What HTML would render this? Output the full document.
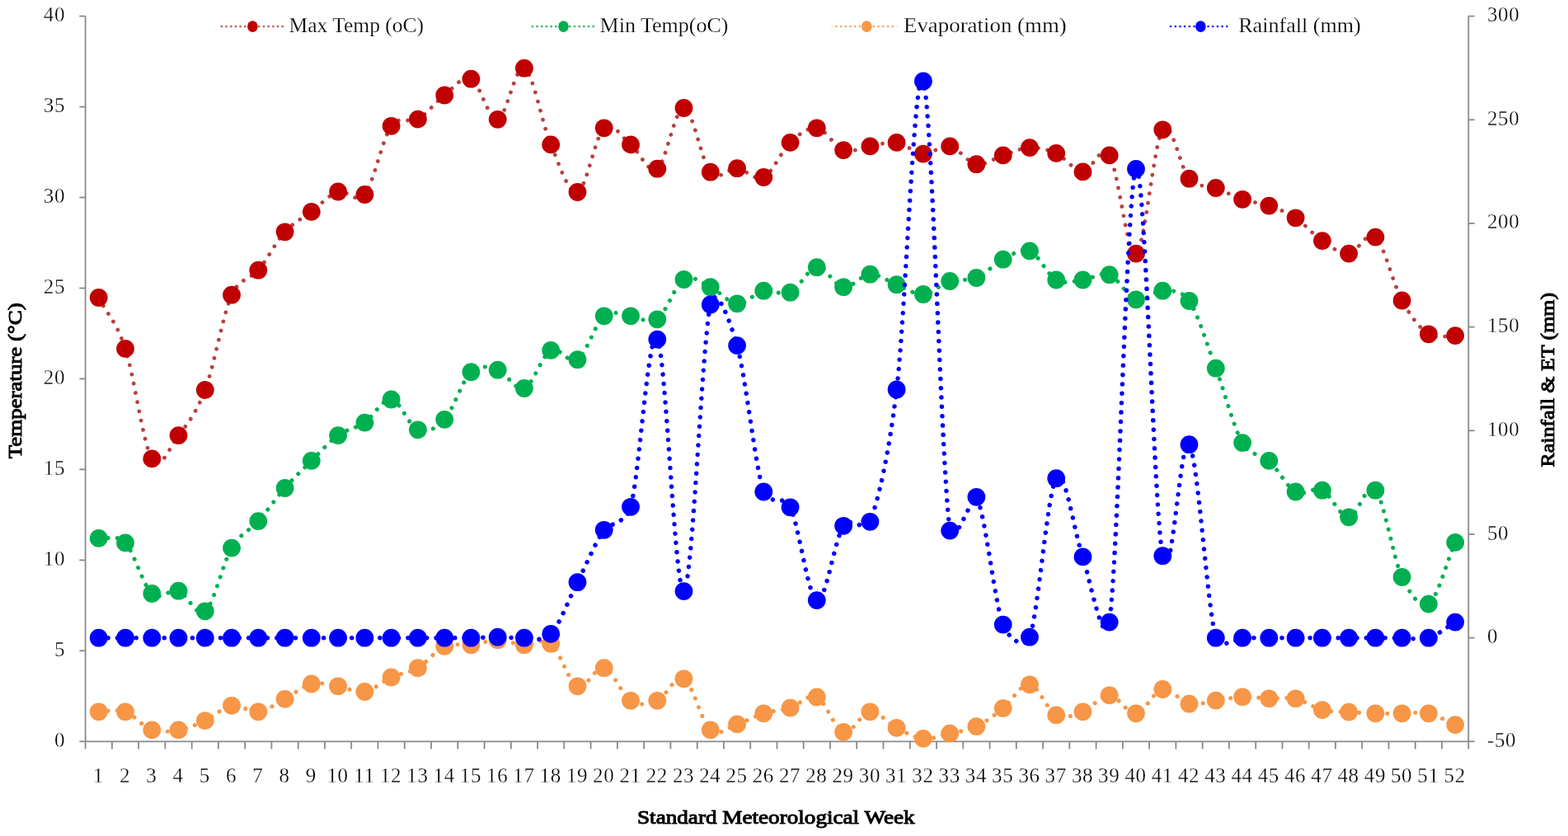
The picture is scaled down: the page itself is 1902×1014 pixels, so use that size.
<!DOCTYPE html>
<html lang="en"><head><meta charset="utf-8"><title>Weekly weather chart</title>
<style>html,body{margin:0;padding:0;background:#fff;overflow:hidden}svg{display:block}text{font-family:"Liberation Serif",serif;fill:#000}.tk{font-size:25px;fill:#151515;stroke:#fff;stroke-width:0.3px;paint-order:fill stroke;letter-spacing:0.6px}.lg{font-size:25px;stroke:#fff;stroke-width:0.25px;paint-order:fill stroke}.ttl{font-size:24px;stroke:#000;stroke-width:1.0px;paint-order:stroke}</style></head><body>
<svg width="1902" height="1014" viewBox="0 0 1902 1014">
<rect x="0" y="0" width="1902" height="1014" fill="#ffffff"/>
<g stroke="#898989" stroke-width="1.8" fill="none">
<line x1="103.6" y1="19.6" x2="103.6" y2="899.3"/>
<line x1="1781.3" y1="19.6" x2="1781.3" y2="899.3"/>
<line x1="103.6" y1="899.3" x2="1781.3" y2="899.3"/>
<line x1="96.3" y1="899.3" x2="103.6" y2="899.3"/>
<line x1="96.3" y1="789.3" x2="103.6" y2="789.3"/>
<line x1="96.3" y1="679.4" x2="103.6" y2="679.4"/>
<line x1="96.3" y1="569.4" x2="103.6" y2="569.4"/>
<line x1="96.3" y1="459.4" x2="103.6" y2="459.4"/>
<line x1="96.3" y1="349.5" x2="103.6" y2="349.5"/>
<line x1="96.3" y1="239.5" x2="103.6" y2="239.5"/>
<line x1="96.3" y1="129.6" x2="103.6" y2="129.6"/>
<line x1="96.3" y1="19.6" x2="103.6" y2="19.6"/>
<line x1="1781.3" y1="899.3" x2="1788.6" y2="899.3"/>
<line x1="1781.3" y1="773.6" x2="1788.6" y2="773.6"/>
<line x1="1781.3" y1="648.0" x2="1788.6" y2="648.0"/>
<line x1="1781.3" y1="522.3" x2="1788.6" y2="522.3"/>
<line x1="1781.3" y1="396.6" x2="1788.6" y2="396.6"/>
<line x1="1781.3" y1="270.9" x2="1788.6" y2="270.9"/>
<line x1="1781.3" y1="145.3" x2="1788.6" y2="145.3"/>
<line x1="1781.3" y1="19.6" x2="1788.6" y2="19.6"/>
<line x1="103.6" y1="899.3" x2="103.6" y2="908.5"/>
<line x1="135.9" y1="899.3" x2="135.9" y2="908.5"/>
<line x1="168.1" y1="899.3" x2="168.1" y2="908.5"/>
<line x1="200.4" y1="899.3" x2="200.4" y2="908.5"/>
<line x1="232.7" y1="899.3" x2="232.7" y2="908.5"/>
<line x1="264.9" y1="899.3" x2="264.9" y2="908.5"/>
<line x1="297.2" y1="899.3" x2="297.2" y2="908.5"/>
<line x1="329.4" y1="899.3" x2="329.4" y2="908.5"/>
<line x1="361.7" y1="899.3" x2="361.7" y2="908.5"/>
<line x1="394.0" y1="899.3" x2="394.0" y2="908.5"/>
<line x1="426.2" y1="899.3" x2="426.2" y2="908.5"/>
<line x1="458.5" y1="899.3" x2="458.5" y2="908.5"/>
<line x1="490.8" y1="899.3" x2="490.8" y2="908.5"/>
<line x1="523.0" y1="899.3" x2="523.0" y2="908.5"/>
<line x1="555.3" y1="899.3" x2="555.3" y2="908.5"/>
<line x1="587.6" y1="899.3" x2="587.6" y2="908.5"/>
<line x1="619.8" y1="899.3" x2="619.8" y2="908.5"/>
<line x1="652.1" y1="899.3" x2="652.1" y2="908.5"/>
<line x1="684.3" y1="899.3" x2="684.3" y2="908.5"/>
<line x1="716.6" y1="899.3" x2="716.6" y2="908.5"/>
<line x1="748.9" y1="899.3" x2="748.9" y2="908.5"/>
<line x1="781.1" y1="899.3" x2="781.1" y2="908.5"/>
<line x1="813.4" y1="899.3" x2="813.4" y2="908.5"/>
<line x1="845.7" y1="899.3" x2="845.7" y2="908.5"/>
<line x1="877.9" y1="899.3" x2="877.9" y2="908.5"/>
<line x1="910.2" y1="899.3" x2="910.2" y2="908.5"/>
<line x1="942.5" y1="899.3" x2="942.5" y2="908.5"/>
<line x1="974.7" y1="899.3" x2="974.7" y2="908.5"/>
<line x1="1007.0" y1="899.3" x2="1007.0" y2="908.5"/>
<line x1="1039.2" y1="899.3" x2="1039.2" y2="908.5"/>
<line x1="1071.5" y1="899.3" x2="1071.5" y2="908.5"/>
<line x1="1103.8" y1="899.3" x2="1103.8" y2="908.5"/>
<line x1="1136.0" y1="899.3" x2="1136.0" y2="908.5"/>
<line x1="1168.3" y1="899.3" x2="1168.3" y2="908.5"/>
<line x1="1200.6" y1="899.3" x2="1200.6" y2="908.5"/>
<line x1="1232.8" y1="899.3" x2="1232.8" y2="908.5"/>
<line x1="1265.1" y1="899.3" x2="1265.1" y2="908.5"/>
<line x1="1297.3" y1="899.3" x2="1297.3" y2="908.5"/>
<line x1="1329.6" y1="899.3" x2="1329.6" y2="908.5"/>
<line x1="1361.9" y1="899.3" x2="1361.9" y2="908.5"/>
<line x1="1394.1" y1="899.3" x2="1394.1" y2="908.5"/>
<line x1="1426.4" y1="899.3" x2="1426.4" y2="908.5"/>
<line x1="1458.7" y1="899.3" x2="1458.7" y2="908.5"/>
<line x1="1490.9" y1="899.3" x2="1490.9" y2="908.5"/>
<line x1="1523.2" y1="899.3" x2="1523.2" y2="908.5"/>
<line x1="1555.5" y1="899.3" x2="1555.5" y2="908.5"/>
<line x1="1587.7" y1="899.3" x2="1587.7" y2="908.5"/>
<line x1="1620.0" y1="899.3" x2="1620.0" y2="908.5"/>
<line x1="1652.2" y1="899.3" x2="1652.2" y2="908.5"/>
<line x1="1684.5" y1="899.3" x2="1684.5" y2="908.5"/>
<line x1="1716.8" y1="899.3" x2="1716.8" y2="908.5"/>
<line x1="1749.0" y1="899.3" x2="1749.0" y2="908.5"/>
<line x1="1781.3" y1="899.3" x2="1781.3" y2="908.5"/>
</g>
<g class="tk">
<text x="79" y="905.8" text-anchor="end">0</text>
<text x="79" y="795.8" text-anchor="end">5</text>
<text x="79" y="685.9" text-anchor="end">10</text>
<text x="79" y="575.9" text-anchor="end">15</text>
<text x="79" y="465.9" text-anchor="end">20</text>
<text x="79" y="356.0" text-anchor="end">25</text>
<text x="79" y="246.0" text-anchor="end">30</text>
<text x="79" y="136.1" text-anchor="end">35</text>
<text x="79" y="26.1" text-anchor="end">40</text>
<text x="1804" y="905.8" text-anchor="start">-50</text>
<text x="1804" y="780.1" text-anchor="start">0</text>
<text x="1804" y="654.5" text-anchor="start">50</text>
<text x="1804" y="528.8" text-anchor="start">100</text>
<text x="1804" y="403.1" text-anchor="start">150</text>
<text x="1804" y="277.4" text-anchor="start">200</text>
<text x="1804" y="151.8" text-anchor="start">250</text>
<text x="1804" y="26.1" text-anchor="start">300</text>
<text x="119.2" y="949" text-anchor="middle">1</text>
<text x="151.5" y="949" text-anchor="middle">2</text>
<text x="183.8" y="949" text-anchor="middle">3</text>
<text x="216.0" y="949" text-anchor="middle">4</text>
<text x="248.3" y="949" text-anchor="middle">5</text>
<text x="280.5" y="949" text-anchor="middle">6</text>
<text x="312.8" y="949" text-anchor="middle">7</text>
<text x="345.1" y="949" text-anchor="middle">8</text>
<text x="377.3" y="949" text-anchor="middle">9</text>
<text x="409.6" y="949" text-anchor="middle">10</text>
<text x="441.9" y="949" text-anchor="middle">11</text>
<text x="474.1" y="949" text-anchor="middle">12</text>
<text x="506.4" y="949" text-anchor="middle">13</text>
<text x="538.7" y="949" text-anchor="middle">14</text>
<text x="570.9" y="949" text-anchor="middle">15</text>
<text x="603.2" y="949" text-anchor="middle">16</text>
<text x="635.4" y="949" text-anchor="middle">17</text>
<text x="667.7" y="949" text-anchor="middle">18</text>
<text x="700.0" y="949" text-anchor="middle">19</text>
<text x="732.2" y="949" text-anchor="middle">20</text>
<text x="764.5" y="949" text-anchor="middle">21</text>
<text x="796.8" y="949" text-anchor="middle">22</text>
<text x="829.0" y="949" text-anchor="middle">23</text>
<text x="861.3" y="949" text-anchor="middle">24</text>
<text x="893.6" y="949" text-anchor="middle">25</text>
<text x="925.8" y="949" text-anchor="middle">26</text>
<text x="958.1" y="949" text-anchor="middle">27</text>
<text x="990.3" y="949" text-anchor="middle">28</text>
<text x="1022.6" y="949" text-anchor="middle">29</text>
<text x="1054.9" y="949" text-anchor="middle">30</text>
<text x="1087.1" y="949" text-anchor="middle">31</text>
<text x="1119.4" y="949" text-anchor="middle">32</text>
<text x="1151.7" y="949" text-anchor="middle">33</text>
<text x="1183.9" y="949" text-anchor="middle">34</text>
<text x="1216.2" y="949" text-anchor="middle">35</text>
<text x="1248.5" y="949" text-anchor="middle">36</text>
<text x="1280.7" y="949" text-anchor="middle">37</text>
<text x="1313.0" y="949" text-anchor="middle">38</text>
<text x="1345.2" y="949" text-anchor="middle">39</text>
<text x="1377.5" y="949" text-anchor="middle">40</text>
<text x="1409.8" y="949" text-anchor="middle">41</text>
<text x="1442.0" y="949" text-anchor="middle">42</text>
<text x="1474.3" y="949" text-anchor="middle">43</text>
<text x="1506.6" y="949" text-anchor="middle">44</text>
<text x="1538.8" y="949" text-anchor="middle">45</text>
<text x="1571.1" y="949" text-anchor="middle">46</text>
<text x="1603.4" y="949" text-anchor="middle">47</text>
<text x="1635.6" y="949" text-anchor="middle">48</text>
<text x="1667.9" y="949" text-anchor="middle">49</text>
<text x="1700.1" y="949" text-anchor="middle">50</text>
<text x="1732.4" y="949" text-anchor="middle">51</text>
<text x="1764.7" y="949" text-anchor="middle">52</text>
</g>
<path d="M119.73 361.00C130.49 381.63 141.24 390.33 152.00 422.90C162.75 455.47 173.50 538.87 184.26 556.40C195.01 573.93 205.77 542.00 216.52 528.10C227.28 514.20 238.03 501.40 248.79 473.00C259.54 444.60 270.29 381.92 281.05 357.70C289.99 337.57 304.37 338.29 313.31 327.70C324.07 314.97 334.82 293.12 345.58 281.30C356.33 269.48 367.08 264.93 377.84 256.80C388.59 248.67 399.35 235.97 410.10 232.50C420.31 229.21 432.16 248.61 442.37 236.00C453.12 222.72 463.88 168.03 474.63 152.80C484.23 139.20 497.29 150.15 506.89 144.60C517.65 138.38 528.40 123.65 539.16 115.50C549.91 107.35 560.67 90.82 571.42 95.70C582.17 100.58 592.93 146.97 603.68 144.80C614.44 142.63 625.19 77.60 635.95 82.70C646.70 87.80 657.46 150.35 668.21 175.40C678.97 200.45 689.72 236.35 700.47 233.00C711.23 229.65 721.98 164.90 732.74 155.30C743.49 145.70 754.25 167.17 765.00 175.40C775.76 183.63 786.51 212.10 797.26 204.70C808.02 197.30 818.77 130.33 829.53 131.00C840.28 131.67 851.04 196.50 861.79 208.70C872.55 220.90 883.30 203.15 894.05 204.20C904.81 205.25 915.56 220.22 926.32 215.00C937.07 209.78 947.83 182.85 958.58 172.90C969.34 162.95 980.09 153.77 990.85 155.30C1001.60 156.83 1012.35 178.42 1023.11 182.10C1033.86 185.78 1044.62 178.93 1055.37 177.40C1066.13 175.87 1076.88 171.37 1087.64 172.90C1098.39 174.43 1109.14 185.85 1119.90 186.60C1130.65 187.35 1141.41 175.30 1152.16 177.40C1162.92 179.50 1173.67 197.37 1184.43 199.20C1195.18 201.03 1205.93 191.75 1216.69 188.40C1227.44 185.05 1238.20 179.52 1248.95 179.10C1259.71 178.68 1270.46 181.02 1281.22 185.90C1291.97 190.78 1302.73 207.98 1313.48 208.40C1323.83 208.80 1335.39 172.49 1345.74 188.40C1356.50 204.93 1367.25 312.78 1378.01 307.60C1388.76 302.42 1399.52 172.45 1410.27 157.30C1421.02 142.15 1431.78 204.92 1442.53 216.70C1453.29 228.48 1464.04 223.82 1474.80 228.00C1485.55 232.18 1496.31 238.20 1507.06 241.80C1517.82 245.40 1528.57 245.85 1539.32 249.60C1550.08 253.35 1560.83 257.22 1571.59 264.30C1582.34 271.38 1593.10 284.88 1603.85 292.10C1614.61 299.32 1625.36 308.35 1636.11 307.60C1646.87 306.85 1657.62 278.12 1668.38 287.60C1679.13 297.08 1689.89 344.88 1700.64 364.50C1711.40 384.12 1722.15 398.20 1732.90 405.30C1743.66 412.40 1754.41 406.50 1765.17 407.10" fill="none" stroke="#B9403F" stroke-width="4.8" stroke-linecap="round" stroke-linejoin="round" stroke-dasharray="0.01 11.36"/>
<g fill="#C00000">
<circle cx="119.7" cy="361.0" r="10.9"/>
<circle cx="152.0" cy="422.9" r="10.9"/>
<circle cx="184.3" cy="556.4" r="10.9"/>
<circle cx="216.5" cy="528.1" r="10.9"/>
<circle cx="248.8" cy="473.0" r="10.9"/>
<circle cx="281.0" cy="357.7" r="10.9"/>
<circle cx="313.3" cy="327.7" r="10.9"/>
<circle cx="345.6" cy="281.3" r="10.9"/>
<circle cx="377.8" cy="256.8" r="10.9"/>
<circle cx="410.1" cy="232.5" r="10.9"/>
<circle cx="442.4" cy="236.0" r="10.9"/>
<circle cx="474.6" cy="152.8" r="10.9"/>
<circle cx="506.9" cy="144.6" r="10.9"/>
<circle cx="539.2" cy="115.5" r="10.9"/>
<circle cx="571.4" cy="95.7" r="10.9"/>
<circle cx="603.7" cy="144.8" r="10.9"/>
<circle cx="635.9" cy="82.7" r="10.9"/>
<circle cx="668.2" cy="175.4" r="10.9"/>
<circle cx="700.5" cy="233.0" r="10.9"/>
<circle cx="732.7" cy="155.3" r="10.9"/>
<circle cx="765.0" cy="175.4" r="10.9"/>
<circle cx="797.3" cy="204.7" r="10.9"/>
<circle cx="829.5" cy="131.0" r="10.9"/>
<circle cx="861.8" cy="208.7" r="10.9"/>
<circle cx="894.1" cy="204.2" r="10.9"/>
<circle cx="926.3" cy="215.0" r="10.9"/>
<circle cx="958.6" cy="172.9" r="10.9"/>
<circle cx="990.8" cy="155.3" r="10.9"/>
<circle cx="1023.1" cy="182.1" r="10.9"/>
<circle cx="1055.4" cy="177.4" r="10.9"/>
<circle cx="1087.6" cy="172.9" r="10.9"/>
<circle cx="1119.9" cy="186.6" r="10.9"/>
<circle cx="1152.2" cy="177.4" r="10.9"/>
<circle cx="1184.4" cy="199.2" r="10.9"/>
<circle cx="1216.7" cy="188.4" r="10.9"/>
<circle cx="1249.0" cy="179.1" r="10.9"/>
<circle cx="1281.2" cy="185.9" r="10.9"/>
<circle cx="1313.5" cy="208.4" r="10.9"/>
<circle cx="1345.7" cy="188.4" r="10.9"/>
<circle cx="1378.0" cy="307.6" r="10.9"/>
<circle cx="1410.3" cy="157.3" r="10.9"/>
<circle cx="1442.5" cy="216.7" r="10.9"/>
<circle cx="1474.8" cy="228.0" r="10.9"/>
<circle cx="1507.1" cy="241.8" r="10.9"/>
<circle cx="1539.3" cy="249.6" r="10.9"/>
<circle cx="1571.6" cy="264.3" r="10.9"/>
<circle cx="1603.9" cy="292.1" r="10.9"/>
<circle cx="1636.1" cy="307.6" r="10.9"/>
<circle cx="1668.4" cy="287.6" r="10.9"/>
<circle cx="1700.6" cy="364.5" r="10.9"/>
<circle cx="1732.9" cy="405.3" r="10.9"/>
<circle cx="1765.2" cy="407.1" r="10.9"/>
</g>
<path d="M119.73 652.90C130.49 654.73 141.24 647.22 152.00 658.40C162.75 669.58 173.50 710.28 184.26 720.00C195.01 729.72 205.77 713.15 216.52 716.70C227.28 720.25 238.03 749.98 248.79 741.30C259.54 732.62 270.29 682.80 281.05 664.60C291.80 646.40 302.56 644.20 313.31 632.10C324.07 620.00 334.82 604.20 345.58 592.00C356.33 579.80 367.08 569.55 377.84 558.90C388.59 548.25 399.35 535.82 410.10 528.10C420.86 520.38 431.61 519.87 442.37 512.60C453.12 505.33 463.88 483.05 474.63 484.50C485.38 485.95 496.14 517.25 506.89 521.30C517.65 525.35 528.40 520.48 539.16 508.80C549.91 497.12 560.67 461.22 571.42 451.20C582.17 441.18 592.93 445.40 603.68 448.70C614.44 452.00 625.19 474.97 635.95 471.00C646.70 467.03 657.46 430.70 668.21 424.90C678.97 419.10 689.72 443.13 700.47 436.20C711.23 429.27 721.98 392.12 732.74 383.30C743.49 374.48 754.25 382.63 765.00 383.30C775.76 383.97 786.51 394.68 797.26 387.30C808.02 379.92 818.77 345.52 829.53 339.00C840.28 332.48 851.04 343.32 861.79 348.20C872.55 353.08 883.30 367.55 894.05 368.30C904.81 369.05 915.56 354.97 926.32 352.70C937.07 350.43 947.83 359.45 958.58 354.70C969.34 349.95 980.09 325.28 990.85 324.20C1001.60 323.12 1012.35 346.78 1023.11 348.20C1033.86 349.62 1044.62 333.20 1055.37 332.70C1066.13 332.20 1076.88 341.15 1087.64 345.20C1098.39 349.25 1109.14 357.70 1119.90 357.00C1130.65 356.30 1141.41 344.33 1152.16 341.00C1162.92 337.67 1173.67 341.38 1184.43 337.00C1195.18 332.62 1205.93 320.13 1216.69 314.70C1227.44 309.27 1238.20 300.27 1248.95 304.40C1259.71 308.53 1270.46 333.65 1281.22 339.50C1291.97 345.35 1302.73 340.55 1313.48 339.50C1324.23 338.45 1334.99 329.23 1345.74 333.20C1356.50 337.17 1367.25 360.05 1378.01 363.30C1388.76 366.55 1399.52 352.42 1410.27 352.70C1420.04 352.96 1432.76 350.77 1442.53 365.00C1453.29 380.67 1464.04 418.02 1474.80 446.70C1485.55 475.38 1496.31 518.40 1507.06 537.10C1516.77 553.98 1529.62 549.97 1539.32 558.90C1550.08 568.80 1560.83 590.53 1571.59 596.50C1582.34 602.47 1593.10 589.57 1603.85 594.70C1614.61 599.83 1625.36 627.30 1636.11 627.30C1646.87 627.30 1657.62 582.58 1668.38 594.70C1679.13 606.82 1689.89 677.02 1700.64 700.00C1710.36 720.77 1723.19 738.94 1732.90 732.60C1743.66 725.58 1754.41 682.80 1765.17 657.90" fill="none" stroke="#00B050" stroke-width="5.1" stroke-linecap="round" stroke-linejoin="round" stroke-dasharray="0.01 11.36"/>
<g fill="#00B050">
<circle cx="119.7" cy="652.9" r="10.9"/>
<circle cx="152.0" cy="658.4" r="10.9"/>
<circle cx="184.3" cy="720.0" r="10.9"/>
<circle cx="216.5" cy="716.7" r="10.9"/>
<circle cx="248.8" cy="741.3" r="10.9"/>
<circle cx="281.0" cy="664.6" r="10.9"/>
<circle cx="313.3" cy="632.1" r="10.9"/>
<circle cx="345.6" cy="592.0" r="10.9"/>
<circle cx="377.8" cy="558.9" r="10.9"/>
<circle cx="410.1" cy="528.1" r="10.9"/>
<circle cx="442.4" cy="512.6" r="10.9"/>
<circle cx="474.6" cy="484.5" r="10.9"/>
<circle cx="506.9" cy="521.3" r="10.9"/>
<circle cx="539.2" cy="508.8" r="10.9"/>
<circle cx="571.4" cy="451.2" r="10.9"/>
<circle cx="603.7" cy="448.7" r="10.9"/>
<circle cx="635.9" cy="471.0" r="10.9"/>
<circle cx="668.2" cy="424.9" r="10.9"/>
<circle cx="700.5" cy="436.2" r="10.9"/>
<circle cx="732.7" cy="383.3" r="10.9"/>
<circle cx="765.0" cy="383.3" r="10.9"/>
<circle cx="797.3" cy="387.3" r="10.9"/>
<circle cx="829.5" cy="339.0" r="10.9"/>
<circle cx="861.8" cy="348.2" r="10.9"/>
<circle cx="894.1" cy="368.3" r="10.9"/>
<circle cx="926.3" cy="352.7" r="10.9"/>
<circle cx="958.6" cy="354.7" r="10.9"/>
<circle cx="990.8" cy="324.2" r="10.9"/>
<circle cx="1023.1" cy="348.2" r="10.9"/>
<circle cx="1055.4" cy="332.7" r="10.9"/>
<circle cx="1087.6" cy="345.2" r="10.9"/>
<circle cx="1119.9" cy="357.0" r="10.9"/>
<circle cx="1152.2" cy="341.0" r="10.9"/>
<circle cx="1184.4" cy="337.0" r="10.9"/>
<circle cx="1216.7" cy="314.7" r="10.9"/>
<circle cx="1249.0" cy="304.4" r="10.9"/>
<circle cx="1281.2" cy="339.5" r="10.9"/>
<circle cx="1313.5" cy="339.5" r="10.9"/>
<circle cx="1345.7" cy="333.2" r="10.9"/>
<circle cx="1378.0" cy="363.3" r="10.9"/>
<circle cx="1410.3" cy="352.7" r="10.9"/>
<circle cx="1442.5" cy="365.0" r="10.9"/>
<circle cx="1474.8" cy="446.7" r="10.9"/>
<circle cx="1507.1" cy="537.1" r="10.9"/>
<circle cx="1539.3" cy="558.9" r="10.9"/>
<circle cx="1571.6" cy="596.5" r="10.9"/>
<circle cx="1603.9" cy="594.7" r="10.9"/>
<circle cx="1636.1" cy="627.3" r="10.9"/>
<circle cx="1668.4" cy="594.7" r="10.9"/>
<circle cx="1700.6" cy="700.0" r="10.9"/>
<circle cx="1732.9" cy="732.6" r="10.9"/>
<circle cx="1765.2" cy="657.9" r="10.9"/>
</g>
<path d="M119.73 863.30C130.49 863.30 141.24 859.62 152.00 863.30C162.75 866.98 173.50 881.72 184.26 885.40C195.01 889.08 205.77 887.28 216.52 885.40C227.28 883.52 238.03 879.03 248.79 874.10C259.54 869.17 270.29 857.60 281.05 855.80C291.80 854.00 302.56 864.63 313.31 863.30C324.07 861.97 334.82 853.43 345.58 847.80C356.33 842.17 367.08 832.08 377.84 829.50C388.59 826.92 399.35 830.72 410.10 832.30C420.86 833.88 431.61 840.80 442.37 839.00C453.12 837.20 463.88 826.30 474.63 821.50C485.38 816.70 496.14 816.47 506.89 810.20C517.65 803.93 528.40 788.57 539.16 783.90C549.91 779.23 560.67 783.45 571.42 782.20C582.17 780.95 592.93 776.40 603.68 776.40C614.44 776.40 625.19 781.48 635.95 782.20C646.70 782.92 657.46 772.35 668.21 780.70C678.97 789.05 689.72 827.38 700.47 832.30C711.23 837.22 721.98 807.28 732.74 810.20C743.49 813.12 754.25 843.20 765.00 849.80C775.76 856.40 786.51 854.22 797.26 849.80C808.02 845.38 818.77 817.37 829.53 823.30C840.28 829.23 851.04 876.22 861.79 885.40C872.55 894.58 883.30 881.75 894.05 878.40C904.81 875.05 915.56 868.60 926.32 865.30C937.07 862.00 947.83 861.90 958.58 858.60C969.34 855.30 980.09 840.62 990.85 845.50C1001.60 850.38 1012.35 884.93 1023.11 887.90C1033.86 890.87 1044.62 864.13 1055.37 863.30C1066.13 862.47 1076.88 877.47 1087.64 882.90C1098.39 888.33 1109.14 894.78 1119.90 895.90C1130.65 897.02 1141.41 892.07 1152.16 889.60C1162.92 887.13 1173.67 886.18 1184.43 881.10C1195.18 876.02 1205.93 867.57 1216.69 859.10C1227.44 850.63 1238.20 828.92 1248.95 830.30C1259.71 831.68 1270.46 861.90 1281.22 867.40C1291.97 872.90 1302.73 867.32 1313.48 863.30C1324.23 859.28 1334.99 842.97 1345.74 843.30C1356.50 843.63 1367.25 866.52 1378.01 865.30C1388.76 864.08 1399.52 837.93 1410.27 836.00C1421.02 834.07 1431.78 851.43 1442.53 853.70C1453.29 855.97 1464.04 851.00 1474.80 849.60C1485.55 848.20 1496.31 845.68 1507.06 845.30C1517.82 844.92 1528.57 846.97 1539.32 847.30C1550.08 847.63 1560.83 845.00 1571.59 847.30C1582.34 849.60 1593.10 858.38 1603.85 861.10C1614.61 863.82 1625.36 862.90 1636.11 863.60C1646.87 864.30 1657.62 865.02 1668.38 865.30C1679.13 865.58 1689.89 865.30 1700.64 865.30C1711.40 865.30 1722.15 863.00 1732.90 865.30C1743.66 867.60 1754.41 874.50 1765.17 879.10" fill="none" stroke="#F79646" stroke-width="5.1" stroke-linecap="round" stroke-linejoin="round" stroke-dasharray="0.01 11.36"/>
<g fill="#F79646">
<circle cx="119.7" cy="863.3" r="10.9"/>
<circle cx="152.0" cy="863.3" r="10.9"/>
<circle cx="184.3" cy="885.4" r="10.9"/>
<circle cx="216.5" cy="885.4" r="10.9"/>
<circle cx="248.8" cy="874.1" r="10.9"/>
<circle cx="281.0" cy="855.8" r="10.9"/>
<circle cx="313.3" cy="863.3" r="10.9"/>
<circle cx="345.6" cy="847.8" r="10.9"/>
<circle cx="377.8" cy="829.5" r="10.9"/>
<circle cx="410.1" cy="832.3" r="10.9"/>
<circle cx="442.4" cy="839.0" r="10.9"/>
<circle cx="474.6" cy="821.5" r="10.9"/>
<circle cx="506.9" cy="810.2" r="10.9"/>
<circle cx="539.2" cy="783.9" r="10.9"/>
<circle cx="571.4" cy="782.2" r="10.9"/>
<circle cx="603.7" cy="776.4" r="10.9"/>
<circle cx="635.9" cy="782.2" r="10.9"/>
<circle cx="668.2" cy="780.7" r="10.9"/>
<circle cx="700.5" cy="832.3" r="10.9"/>
<circle cx="732.7" cy="810.2" r="10.9"/>
<circle cx="765.0" cy="849.8" r="10.9"/>
<circle cx="797.3" cy="849.8" r="10.9"/>
<circle cx="829.5" cy="823.3" r="10.9"/>
<circle cx="861.8" cy="885.4" r="10.9"/>
<circle cx="894.1" cy="878.4" r="10.9"/>
<circle cx="926.3" cy="865.3" r="10.9"/>
<circle cx="958.6" cy="858.6" r="10.9"/>
<circle cx="990.8" cy="845.5" r="10.9"/>
<circle cx="1023.1" cy="887.9" r="10.9"/>
<circle cx="1055.4" cy="863.3" r="10.9"/>
<circle cx="1087.6" cy="882.9" r="10.9"/>
<circle cx="1119.9" cy="895.9" r="10.9"/>
<circle cx="1152.2" cy="889.6" r="10.9"/>
<circle cx="1184.4" cy="881.1" r="10.9"/>
<circle cx="1216.7" cy="859.1" r="10.9"/>
<circle cx="1249.0" cy="830.3" r="10.9"/>
<circle cx="1281.2" cy="867.4" r="10.9"/>
<circle cx="1313.5" cy="863.3" r="10.9"/>
<circle cx="1345.7" cy="843.3" r="10.9"/>
<circle cx="1378.0" cy="865.3" r="10.9"/>
<circle cx="1410.3" cy="836.0" r="10.9"/>
<circle cx="1442.5" cy="853.7" r="10.9"/>
<circle cx="1474.8" cy="849.6" r="10.9"/>
<circle cx="1507.1" cy="845.3" r="10.9"/>
<circle cx="1539.3" cy="847.3" r="10.9"/>
<circle cx="1571.6" cy="847.3" r="10.9"/>
<circle cx="1603.9" cy="861.1" r="10.9"/>
<circle cx="1636.1" cy="863.6" r="10.9"/>
<circle cx="1668.4" cy="865.3" r="10.9"/>
<circle cx="1700.6" cy="865.3" r="10.9"/>
<circle cx="1732.9" cy="865.3" r="10.9"/>
<circle cx="1765.2" cy="879.1" r="10.9"/>
</g>
<path d="M119.73 773.70C130.49 773.70 141.24 773.70 152.00 773.70C162.75 773.70 173.50 773.70 184.26 773.70C195.01 773.70 205.77 773.70 216.52 773.70C227.28 773.70 238.03 773.70 248.79 773.70C259.54 773.70 270.29 773.70 281.05 773.70C291.80 773.70 302.56 773.70 313.31 773.70C324.07 773.70 334.82 773.70 345.58 773.70C356.33 773.70 367.08 773.70 377.84 773.70C388.59 773.70 399.35 773.70 410.10 773.70C420.86 773.70 431.61 773.70 442.37 773.70C453.12 773.70 463.88 773.70 474.63 773.70C485.38 773.70 496.14 773.70 506.89 773.70C517.65 773.70 528.40 773.70 539.16 773.70C549.91 773.70 560.67 773.87 571.42 773.70C582.17 773.53 592.93 772.70 603.68 772.70C614.44 772.70 625.19 774.33 635.95 773.70C646.70 773.07 657.46 780.15 668.21 768.90C678.97 757.65 689.72 727.22 700.47 706.20C711.23 685.18 721.98 658.03 732.74 642.80C738.48 634.67 759.26 635.37 765.00 614.80C775.76 576.27 786.51 394.55 797.26 411.60C808.02 428.65 818.77 724.12 829.53 717.10C840.28 710.08 851.04 419.17 861.79 369.50C868.05 340.59 885.97 390.64 894.05 419.10C904.81 456.93 915.56 563.80 926.32 596.50C932.15 614.24 950.36 598.54 958.58 615.30C969.34 637.23 980.09 724.35 990.85 728.10C1001.60 731.85 1012.35 653.68 1023.11 637.80C1032.26 624.28 1049.44 648.01 1055.37 632.80C1065.17 607.69 1077.83 553.67 1087.64 472.50C1098.39 383.45 1109.14 69.98 1119.90 98.50C1130.65 127.02 1141.41 559.55 1152.16 643.60C1155.46 669.40 1181.13 596.97 1184.43 602.80C1195.18 621.80 1205.93 729.28 1216.69 757.60C1223.01 774.25 1242.86 789.44 1248.95 772.70C1259.71 743.13 1270.46 596.42 1281.22 580.20C1291.97 563.98 1302.73 646.33 1313.48 675.40C1319.29 691.10 1339.93 796.96 1345.74 754.60C1356.50 676.18 1367.25 218.30 1378.01 204.90C1388.76 191.50 1399.52 618.48 1410.27 674.20C1421.02 729.92 1431.78 522.62 1442.53 539.20C1453.29 555.78 1464.04 734.62 1474.80 773.70C1479.08 789.25 1502.78 773.70 1507.06 773.70C1517.82 773.70 1528.57 773.70 1539.32 773.70C1550.08 773.70 1560.83 773.70 1571.59 773.70C1582.34 773.70 1593.10 773.70 1603.85 773.70C1614.61 773.70 1625.36 773.70 1636.11 773.70C1646.87 773.70 1657.62 773.70 1668.38 773.70C1679.13 773.70 1689.89 773.70 1700.64 773.70C1711.40 773.70 1722.15 776.88 1732.90 773.70C1743.66 770.52 1754.41 760.97 1765.17 754.60" fill="none" stroke="#0000FF" stroke-width="5.5" stroke-linecap="round" stroke-linejoin="round" stroke-dasharray="0.01 11.36"/>
<g fill="#0000FF">
<circle cx="119.7" cy="773.7" r="10.9"/>
<circle cx="152.0" cy="773.7" r="10.9"/>
<circle cx="184.3" cy="773.7" r="10.9"/>
<circle cx="216.5" cy="773.7" r="10.9"/>
<circle cx="248.8" cy="773.7" r="10.9"/>
<circle cx="281.0" cy="773.7" r="10.9"/>
<circle cx="313.3" cy="773.7" r="10.9"/>
<circle cx="345.6" cy="773.7" r="10.9"/>
<circle cx="377.8" cy="773.7" r="10.9"/>
<circle cx="410.1" cy="773.7" r="10.9"/>
<circle cx="442.4" cy="773.7" r="10.9"/>
<circle cx="474.6" cy="773.7" r="10.9"/>
<circle cx="506.9" cy="773.7" r="10.9"/>
<circle cx="539.2" cy="773.7" r="10.9"/>
<circle cx="571.4" cy="773.7" r="10.9"/>
<circle cx="603.7" cy="772.7" r="10.9"/>
<circle cx="635.9" cy="773.7" r="10.9"/>
<circle cx="668.2" cy="768.9" r="10.9"/>
<circle cx="700.5" cy="706.2" r="10.9"/>
<circle cx="732.7" cy="642.8" r="10.9"/>
<circle cx="765.0" cy="614.8" r="10.9"/>
<circle cx="797.3" cy="411.6" r="10.9"/>
<circle cx="829.5" cy="717.1" r="10.9"/>
<circle cx="861.8" cy="369.5" r="10.9"/>
<circle cx="894.1" cy="419.1" r="10.9"/>
<circle cx="926.3" cy="596.5" r="10.9"/>
<circle cx="958.6" cy="615.3" r="10.9"/>
<circle cx="990.8" cy="728.1" r="10.9"/>
<circle cx="1023.1" cy="637.8" r="10.9"/>
<circle cx="1055.4" cy="632.8" r="10.9"/>
<circle cx="1087.6" cy="472.5" r="10.9"/>
<circle cx="1119.9" cy="98.5" r="10.9"/>
<circle cx="1152.2" cy="643.6" r="10.9"/>
<circle cx="1184.4" cy="602.8" r="10.9"/>
<circle cx="1216.7" cy="757.6" r="10.9"/>
<circle cx="1249.0" cy="772.7" r="10.9"/>
<circle cx="1281.2" cy="580.2" r="10.9"/>
<circle cx="1313.5" cy="675.4" r="10.9"/>
<circle cx="1345.7" cy="754.6" r="10.9"/>
<circle cx="1378.0" cy="204.9" r="10.9"/>
<circle cx="1410.3" cy="674.2" r="10.9"/>
<circle cx="1442.5" cy="539.2" r="10.9"/>
<circle cx="1474.8" cy="773.7" r="10.9"/>
<circle cx="1507.1" cy="773.7" r="10.9"/>
<circle cx="1539.3" cy="773.7" r="10.9"/>
<circle cx="1571.6" cy="773.7" r="10.9"/>
<circle cx="1603.9" cy="773.7" r="10.9"/>
<circle cx="1636.1" cy="773.7" r="10.9"/>
<circle cx="1668.4" cy="773.7" r="10.9"/>
<circle cx="1700.6" cy="773.7" r="10.9"/>
<circle cx="1732.9" cy="773.7" r="10.9"/>
<circle cx="1765.2" cy="754.6" r="10.9"/>
</g>
<line x1="268.90" y1="32.1" x2="342.76" y2="32.1" stroke="#B9403F" stroke-width="2.7" stroke-linecap="round" stroke-dasharray="0.01 5.67" stroke-opacity="0.85"/>
<ellipse cx="306.4" cy="32.1" rx="6.3" ry="6.8" fill="#C00000"/>
<text class="lg" x="350.6" y="39" textLength="163.5" lengthAdjust="spacingAndGlyphs">Max Temp (oC)</text>
<line x1="645.90" y1="32.1" x2="719.76" y2="32.1" stroke="#00B050" stroke-width="2.7" stroke-linecap="round" stroke-dasharray="0.01 5.67" stroke-opacity="0.85"/>
<ellipse cx="683.5" cy="32.1" rx="6.3" ry="6.8" fill="#00B050"/>
<text class="lg" x="727.6" y="39" textLength="155.9" lengthAdjust="spacingAndGlyphs">Min Temp(oC)</text>
<line x1="1014.50" y1="32.1" x2="1082.68" y2="32.1" stroke="#F79646" stroke-width="2.7" stroke-linecap="round" stroke-dasharray="0.01 5.67" stroke-opacity="0.85"/>
<circle cx="1008.82" cy="32.1" r="1.3" fill="#F79646" fill-opacity="0.18"/>
<circle cx="1088.34" cy="32.1" r="1.3" fill="#F79646" fill-opacity="0.18"/>
<ellipse cx="1051.4" cy="32.1" rx="6.3" ry="6.8" fill="#F79646"/>
<text class="lg" x="1096.0" y="39" textLength="197.8" lengthAdjust="spacingAndGlyphs">Evaporation (mm)</text>
<line x1="1420.10" y1="32.1" x2="1488.28" y2="32.1" stroke="#0000FF" stroke-width="2.7" stroke-linecap="round" stroke-dasharray="0.01 5.67" stroke-opacity="0.85"/>
<ellipse cx="1456.4" cy="32.1" rx="6.3" ry="6.8" fill="#0000FF"/>
<text class="lg" x="1502.2" y="39" textLength="148.6" lengthAdjust="spacingAndGlyphs">Rainfall (mm)</text>
<text class="ttl" x="773" y="999" textLength="336.6" lengthAdjust="spacingAndGlyphs">Standard Meteorological Week</text>
<text class="ttl" transform="translate(25.5 556.3) rotate(-90)" x="0" y="0" textLength="189" lengthAdjust="spacingAndGlyphs">Temperature (°C)</text>
<text class="ttl" transform="translate(1885.2 566.5) rotate(-90)" x="0" y="0" textLength="211.5" lengthAdjust="spacingAndGlyphs">Rainfall &amp; ET (mm)</text>
</svg></body></html>
